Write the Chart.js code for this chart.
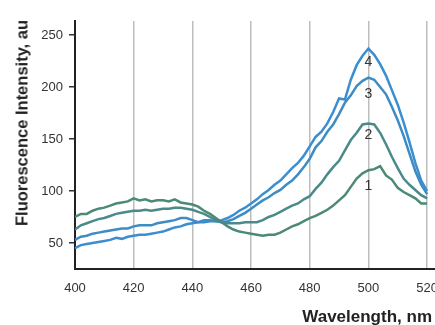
<!DOCTYPE html>
<html>
<head>
<meta charset="utf-8">
<script src="https://cdn.jsdelivr.net/npm/chart.js@4"></script>
<style>
  body { margin: 0; overflow: hidden; background: #fff; }
  #wrap { position: relative; width: 445px; height: 325px; }
  .axisTitle { position: absolute; font-family: "Liberation Sans", Arial, sans-serif; font-weight: bold; color: #222; white-space: nowrap; }
  #yTitle { left: 22px; top: 123px; font-size: 16.5px; transform: translate(-50%, -50%) rotate(-90deg); }
  #xTitle { right: 13px; top: 307px; font-size: 17px; }
</style>
</head>
<body>
<div id="wrap">
  <canvas id="myChart" width="445" height="325"></canvas>
  <div class="axisTitle" id="yTitle">Fluorescence Intensity, au</div>
  <div class="axisTitle" id="xTitle">Wavelength, nm</div>
</div>
<script>
// --- Data ---
const wavelengths = [400, 402, 404, 406, 408, 410, 412, 414, 416, 418, 420, 422, 424, 426, 428, 430, 432, 434, 436, 438,
  440, 442, 444, 446, 448, 450, 452, 454, 456, 458, 460, 462, 464, 466, 468, 470, 472, 474, 476, 478,
  480, 482, 484, 486, 488, 490, 492, 494, 496, 498, 500, 502, 504, 506, 508, 510, 512, 514, 516, 518, 520];

const curve1 = [75, 78, 78, 81, 83, 84, 86, 88, 89, 90, 93, 91, 92, 90, 91, 91, 90, 92, 89, 88,
  87, 85, 81, 78, 74, 70, 66, 63, 61, 60, 59, 58, 57, 58, 58, 60, 63, 66, 68, 71,
  74, 76, 79, 82, 86, 91, 96, 104, 112, 117, 120, 121, 124, 115, 111, 103, 99, 96, 93, 88, 88];

const curve2 = [63, 67, 69, 71, 73, 74, 76, 78, 79, 80, 81, 81, 82, 81, 82, 83, 83, 84, 84, 83,
  82, 80, 78, 75, 72, 70, 69, 69, 69, 70, 70, 70, 72, 75, 77, 80, 83, 86, 88, 92,
  95, 102, 108, 116, 123, 129, 139, 149, 156, 164, 165, 164, 156, 145, 133, 122, 112, 106, 101, 96, 93];

const curve3 = [53, 56, 57, 59, 60, 61, 62, 63, 64, 64, 66, 67, 67, 67, 69, 70, 71, 72, 74, 74,
  72, 70, 70, 71, 71, 70, 71, 73, 76, 79, 83, 87, 91, 94, 98, 101, 106, 110, 116, 123,
  131, 142, 148, 157, 164, 174, 185, 192, 201, 206, 209, 207, 200, 193, 181, 168, 153, 136, 119, 106, 97];

const curve4 = [45, 48, 49, 50, 51, 52, 53, 55, 54, 56, 57, 58, 58, 59, 60, 61, 63, 65, 66, 68,
  69, 70, 72, 72, 71, 72, 74, 77, 81, 84, 88, 92, 97, 101, 106, 110, 116, 122, 127, 134,
  143, 152, 157, 165, 176, 189, 188, 207, 221, 230, 237, 231, 222, 211, 197, 183, 166, 147, 127, 110, 100];

const seriesNames = ["1", "2", "3", "4"];
const seriesColors = ["#4b8a74", "#4a8a8a", "#3d8cc4", "#3a8ed2"];

const xTicks = [400, 420, 440, 460, 480, 500, 520];
const yTicks = [50, 100, 150, 200, 250];

// curve number labels, placed at wavelength 500
const curveLabelX = 500;
const curveLabelY = [105, 154, 193, 224];

// --- Build datasets ---
const toPoints = arr => wavelengths.map((w, i) => ({ x: w, y: arr[i] }));
const allCurves = [curve1, curve2, curve3, curve4];

const datasets = allCurves.map((c, i) => ({
  label: seriesNames[i],
  data: toPoints(c),
  borderColor: seriesColors[i],
  borderWidth: 2.5,
  pointRadius: 0,
  tension: 0,
  fill: false
}));

// --- Curve number plugin ---
const curveLabels = {
  id: "curveLabels",
  afterDatasetsDraw(chart) {
    const { ctx, scales } = chart;
    ctx.save();
    ctx.font = "14px 'Liberation Sans', Arial, sans-serif";
    ctx.fillStyle = "#333";
    ctx.textAlign = "center";
    ctx.textBaseline = "middle";
    seriesNames.forEach((name, i) => {
      ctx.fillText(name, scales.x.getPixelForValue(curveLabelX), scales.y.getPixelForValue(curveLabelY[i]));
    });
    ctx.restore();
  }
};

const tickFont = { family: "'Liberation Sans', Arial, sans-serif", size: 13 };

const ctx = document.getElementById("myChart");
new Chart(ctx, {
  type: "line",
  data: { datasets },
  options: {
    responsive: false,
    animation: false,
    layout: { padding: { top: 21, right: 10, left: 0, bottom: 0 } },
    plugins: { legend: { display: false }, tooltip: { enabled: false } },
    scales: {
      x: {
        type: "linear",
        min: 400,
        max: 522.7,
        afterBuildTicks: s => { s.ticks = xTicks.map(v => ({ value: v })); },
        afterFit: s => { s.height = 56; s.paddingLeft = 0; s.paddingRight = 0; },
        grid: {
          color: c => (c.tick && c.tick.value === 400) ? "rgba(0,0,0,0)" : "#bdbdbd",
          lineWidth: 1.5,
          drawTicks: false
        },
        border: { color: "#222", width: 2 },
        ticks: { padding: 12, color: "#333", font: tickFont, maxRotation: 0 }
      },
      y: {
        min: 25,
        max: 263.5,
        afterBuildTicks: s => { s.ticks = yTicks.map(v => ({ value: v })); },
        afterFit: s => { s.width = 75; s.paddingTop = 0; s.paddingBottom = 0; },
        grid: { drawOnChartArea: false, drawTicks: true, tickLength: 6, color: "#333", lineWidth: 1.5 },
        border: { color: "#222", width: 2 },
        ticks: { padding: 6, color: "#333", font: tickFont }
      }
    }
  },
  plugins: [curveLabels]
});
</script>
</body>
</html>
